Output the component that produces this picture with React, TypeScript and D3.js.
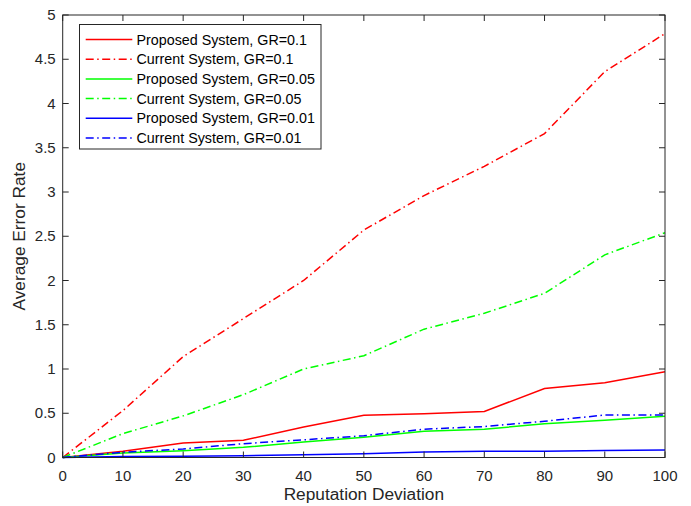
import React from "react";
import * as d3 from "d3";

const deviations = [0, 10, 20, 30, 40, 50, 60, 70, 80, 90, 100];
const proposed01 = [0, 0.07, 0.164, 0.194, 0.345, 0.478, 0.495, 0.52, 0.78, 0.845, 0.97];
const current01 = [0, 0.53, 1.14, 1.57, 2.0, 2.57, 2.96, 3.29, 3.66, 4.36, 4.79];
const proposed005 = [0, 0.05, 0.077, 0.115, 0.175, 0.23, 0.296, 0.32, 0.38, 0.42, 0.465];
const current005 = [0, 0.27, 0.47, 0.71, 1.0, 1.15, 1.45, 1.63, 1.855, 2.29, 2.54];
const proposed001 = [0, 0.01, 0.015, 0.02, 0.03, 0.043, 0.062, 0.07, 0.07, 0.08, 0.085];
const current001 = [0, 0.06, 0.096, 0.156, 0.2, 0.246, 0.32, 0.35, 0.41, 0.48, 0.48];

const seriesNames = [
  "Proposed System, GR=0.1",
  "Current System, GR=0.1",
  "Proposed System, GR=0.05",
  "Current System, GR=0.05",
  "Proposed System, GR=0.01",
  "Current System, GR=0.01",
];
const seriesValues = [proposed01, current01, proposed005, current005, proposed001, current001];
const seriesColors = ["#ff0000", "#ff0000", "#00ff00", "#00ff00", "#0000ff", "#0000ff"];
const seriesDashed = [false, true, false, true, false, true];

const xTicks = [0, 10, 20, 30, 40, 50, 60, 70, 80, 90, 100];
const yTicks = [0, 0.5, 1, 1.5, 2, 2.5, 3, 3.5, 4, 4.5, 5];

const W = 691;
const H = 506;
const left = 62.7;
const right = 665;
const top = 15;
const bottom = 457.5;
const font = "'Liberation Sans', Arial, Helvetica, sans-serif";
const axisColor = "#262626";
const dashPattern = "8,3.5,1.5,3.5";

export default function App() {
  const x = d3.scaleLinear().domain([0, 100]).range([left, right]);
  const y = d3.scaleLinear().domain([0, 5]).range([bottom, top]);
  const line = d3
    .line<number>()
    .x((_, i) => x(deviations[i]))
    .y((d) => y(d));

  const legX = 79.5;
  const legY = 24.5;
  const legW = 241.5;
  const legH = 124.5;
  const rowH = 19.7;

  return (
    <svg
      width={W}
      height={H}
      style={{ position: "absolute", left: 0, top: 0, background: "#fff" }}
      fontFamily={font}
    >
      <rect x={0} y={0} width={W} height={H} fill="#fff" />
      {/* series */}
      <g>
        {seriesValues.map((vals, i) => (
          <path
            key={i}
            d={line(vals) || ""}
            fill="none"
            stroke={seriesColors[i]}
            strokeWidth={1.5}
            strokeDasharray={seriesDashed[i] ? dashPattern : undefined}
          />
        ))}
      </g>
      {/* axes box */}
      <rect
        x={left}
        y={top}
        width={right - left}
        height={bottom - top}
        fill="none"
        stroke={axisColor}
        strokeWidth={1}
      />
      {/* x ticks */}
      {xTicks.map((t) => (
        <g key={"x" + t}>
          <line x1={x(t)} x2={x(t)} y1={bottom} y2={bottom - 6} stroke={axisColor} />
          <line x1={x(t)} x2={x(t)} y1={top} y2={top + 6} stroke={axisColor} />
          <text
            x={x(t)}
            y={bottom + 23.5}
            textAnchor="middle"
            fontSize={15}
            fill={axisColor}
          >
            {t}
          </text>
        </g>
      ))}
      {/* y ticks */}
      {yTicks.map((t) => (
        <g key={"y" + t}>
          <line x1={left} x2={left + 6} y1={y(t)} y2={y(t)} stroke={axisColor} />
          <line x1={right} x2={right - 6} y1={y(t)} y2={y(t)} stroke={axisColor} />
          <text
            x={left - 7}
            y={y(t) + 5.2}
            textAnchor="end"
            fontSize={15}
            fill={axisColor}
          >
            {t}
          </text>
        </g>
      ))}
      {/* axis labels */}
      <text
        x={(left + right) / 2}
        y={500}
        textAnchor="middle"
        fontSize={17.3}
        fill={axisColor}
      >
        Reputation Deviation
      </text>
      <text
        transform={`translate(25, ${(top + bottom) / 2}) rotate(-90)`}
        textAnchor="middle"
        fontSize={17.3}
        fill={axisColor}
      >
        Average Error Rate
      </text>
      {/* legend */}
      <rect x={legX} y={legY} width={legW} height={legH} fill="#fff" stroke={axisColor} strokeWidth={1} />
      {seriesNames.map((name, i) => {
        const cy = legY + 15 + i * rowH;
        return (
          <g key={"l" + i}>
            <line
              x1={85.7}
              x2={132.3}
              y1={cy}
              y2={cy}
              stroke={seriesColors[i]}
              strokeWidth={1.5}
              strokeDasharray={seriesDashed[i] ? dashPattern : undefined}
            />
            <text x={136.5} y={cy + 5} fontSize={14.3} fill="#000">
              {name}
            </text>
          </g>
        );
      })}
    </svg>
  );
}
